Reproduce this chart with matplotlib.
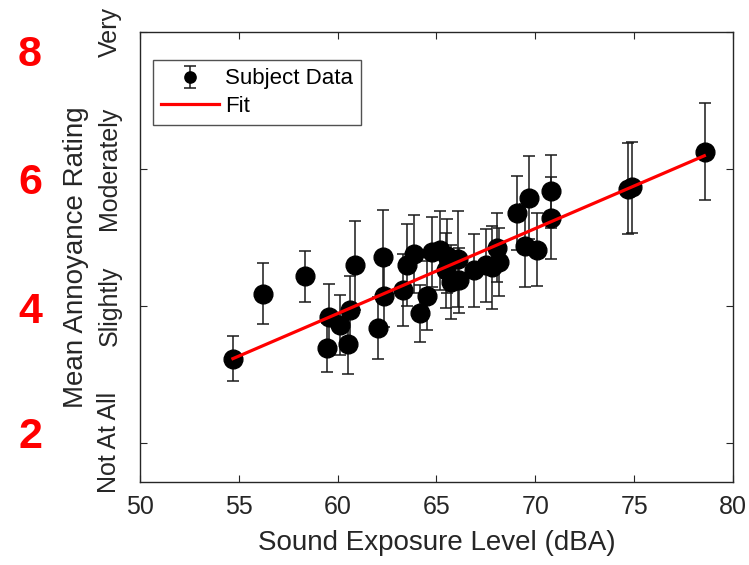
import matplotlib
matplotlib.use("Agg")
import matplotlib.pyplot as plt

plt.rcParams['font.family'] = ['Liberation Sans', 'DejaVu Sans']

# Subject data: sound exposure level (dBA), mean annoyance, error half-width
sel = [54.70, 56.20, 58.33, 59.55, 59.46, 60.14, 60.61, 60.52, 60.90,
       62.30, 62.33, 62.03, 63.30, 63.52, 63.85, 64.14, 64.53, 64.78,
       65.20, 65.54, 65.46, 65.71, 66.08, 66.13, 66.89, 67.49, 67.83,
       68.04, 68.16, 69.06, 69.68, 69.46, 70.07, 70.78, 70.78, 74.70,
       74.87, 78.59]
annoy = [3.23, 4.18, 4.43, 3.84, 3.39, 3.72, 3.94, 3.44, 4.59,
         4.72, 4.14, 3.68, 4.23, 4.60, 4.76, 3.89, 4.15, 4.78,
         4.81, 4.73, 4.52, 4.35, 4.69, 4.37, 4.52, 4.59, 4.56,
         4.85, 4.64, 5.36, 5.58, 4.88, 4.82, 5.67, 5.28, 5.71,
         5.73, 6.25]
err = [0.33, 0.45, 0.37, 0.48, 0.36, 0.44, 0.50, 0.43, 0.65,
       0.68, 0.45, 0.45, 0.52, 0.60, 0.57, 0.42, 0.50, 0.51,
       0.58, 0.54, 0.55, 0.54, 0.70, 0.47, 0.53, 0.53, 0.60,
       0.50, 0.49, 0.54, 0.60, 0.60, 0.53, 0.53, 0.60, 0.66,
       0.66, 0.71]

fit_x = [54.70, 78.55]
fit_y = [3.23, 6.19]

x_ticks = [50, 55, 60, 65, 70, 75, 80]
y_ticks = [2, 4, 6, 8]
y_tick_labels = ["Not At All", "Slightly", "Moderately", "Very"]
red_numbers = ["8", "6", "4", "2"]

dark = "#262626"

fig = plt.figure(figsize=(7.49, 5.65), dpi=100)
ax = fig.add_axes([140/749, 1-482/565, (733-140)/749, (482-31.7)/565])

eb = ax.errorbar(sel, annoy, yerr=err, fmt='o', color='black', ecolor='#1a1a1a',
                 markersize=13.5, elinewidth=1.1, capsize=4.5, capthick=1.1,
                 label='Subject Data', zorder=2)
fl, = ax.plot(fit_x, fit_y, color='#ff0000', linewidth=2.3, label='Fit', zorder=3)

ax.set_xlim(50, 80)
ax.set_ylim(1.43, 8)
ax.set_xticks(x_ticks)
ax.set_xticklabels([str(t) for t in x_ticks])
ax.set_yticks(y_ticks)
ax.set_yticklabels(y_tick_labels, rotation=90, va='center', ha='center')

ax.tick_params(direction='in', length=5, width=0.8, colors=dark,
               top=True, right=True, labelsize=18)
ax.tick_params(axis='y', pad=22)
ax.tick_params(axis='x', pad=9)
for s in ax.spines.values():
    s.set_color(dark)
    s.set_linewidth(1.0)

ax.set_xlabel("Sound Exposure Level (dBA)", fontsize=20, color=dark, labelpad=8)
ax.set_ylabel("Mean Annoyance Rating", fontsize=20, color=dark, labelpad=6)

leg = ax.legend([eb, fl], ['Subject Data', 'Fit'], loc='upper left',
                bbox_to_anchor=((153-140)/593, 1-(60-31.7)/450.3),
                fontsize=16, frameon=True, fancybox=False, borderaxespad=0,
                handlelength=2.6, handletextpad=0.25, borderpad=0.38,
                labelspacing=0.28, markerscale=0.6)
leg.get_frame().set_edgecolor(dark)
leg.get_frame().set_linewidth(1.0)
for t in leg.get_texts():
    t.set_color('black')

# red annotation numbers on the left
red_y_px = [55, 183, 312, 437]
for lab, ypx in zip(red_numbers, red_y_px):
    fig.text(30/749, 1-ypx/565, lab, color='#ff0000', fontsize=31,
             fontweight='bold', ha='center', va='center')

fig.savefig("out.png", dpi=100)
